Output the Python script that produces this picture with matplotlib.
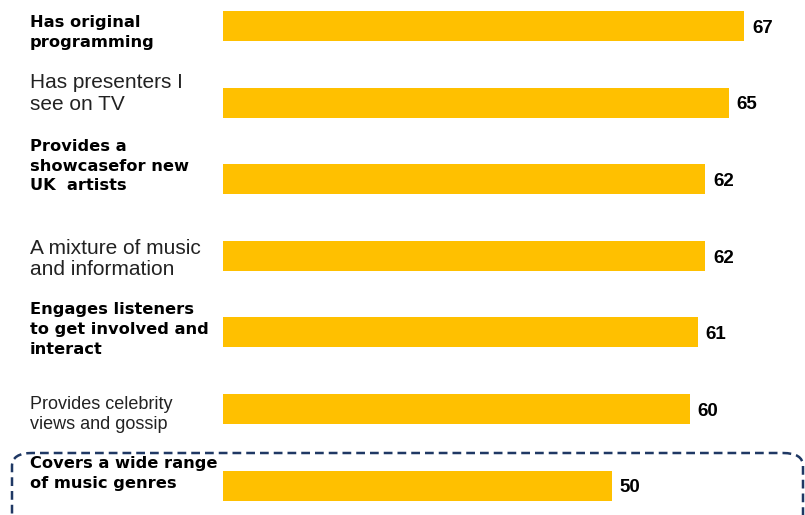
import matplotlib.pyplot as plt
from matplotlib.patches import FancyBboxPatch
from matplotlib.transforms import blended_transform_factory

# attributes and scores
atributos = [
    "Has original\nprogramming",
    "Has presenters I\nsee on TV",
    "Provides a\nshowcasefor new\nUK  artists",
    "A mixture of music\nand information",
    "Engages listeners\nto get involved and\ninteract",
    "Provides celebrity\nviews and gossip",
    "Covers a wide range\nof music genres",
]
puntuaciones = [67, 65, 62, 62, 61, 60, 50]
en_negrita = [True, False, True, False, True, False, True]

# vertical shift of each label relative to its bar (in bar slots)
desplazamiento = [0.08, -0.12, -0.17, 0.04, -0.04, 0.07, -0.16]
# font size / line spacing of the regular labels
tam_normal = [None, 15, None, 15, None, 13, None]
interlinea = [None, 1.15, None, 1.15, None, 1.2, None]

fig = plt.figure(figsize=(8.05, 5.15), dpi=100)
ax = fig.add_axes([0, 0, 1, 1])

posiciones = list(range(len(atributos)))
ax.barh(posiciones, puntuaciones, height=0.39, color="#FFC000", left=0)

escala = 7.78          # pixels per point
ax.set_xlim(-223 / escala, (805 - 223) / escala)
paso = 76.6
ax.set_ylim((515 - 26) / paso, -26 / paso)
ax.axis("off")

for i, v in enumerate(puntuaciones):
    ax.text(v + 1.0, i + 0.03, str(v), va="center", ha="left",
            fontsize=13.5, fontweight="bold", family="Liberation Sans")

trans = blended_transform_factory(fig.transFigure, ax.transData)
for i, etiqueta in enumerate(atributos):
    if en_negrita[i]:
        ax.text(30 / 805, i + desplazamiento[i], etiqueta, transform=trans,
                va="center", ha="left", fontsize=11.7, fontweight="bold",
                family="DejaVu Sans", linespacing=1.4)
    else:
        ax.text(30 / 805, i + desplazamiento[i], etiqueta, transform=trans,
                va="center", ha="left", fontsize=tam_normal[i],
                family="Liberation Sans", color="#222222",
                linespacing=interlinea[i])

# dashed frame round the last row
caja = FancyBboxPatch((12 / 805, -30 / 515), 791 / 805, 92 / 515,
                      boxstyle="round,pad=0,rounding_size=0.025",
                      transform=fig.transFigure, fill=False,
                      edgecolor="#1F3864", linestyle=(0, (3.5, 2)),
                      linewidth=1.8, clip_on=False)
fig.patches.append(caja)

fig.savefig("out.png", dpi=100)
